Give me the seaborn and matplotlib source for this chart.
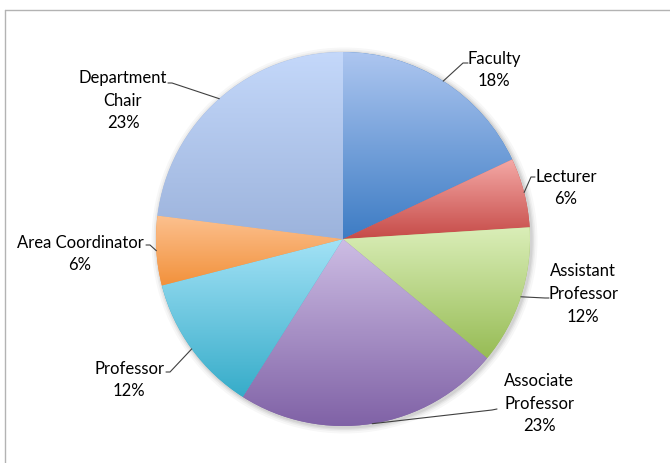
import numpy as np
import matplotlib
matplotlib.use('Agg')
import matplotlib.pyplot as plt
from matplotlib.colors import to_rgb
from matplotlib.lines import Line2D
from matplotlib.patches import Circle
import seaborn as sns

# ── Data ──
roles = ['Faculty', 'Lecturer', 'Assistant\nProfessor', 'Associate\nProfessor',
         'Professor', 'Area Coordinator', 'Department\nChair']
shares = [18, 6, 12, 23, 12, 6, 23]

# Excel-like gradient per slice: light at top, darker at bottom
top_colors = ['#adc6f0', '#f4a9a6', '#daeeb8', '#cdbde4', '#a3e2f6', '#fcc08e', '#c4d8fa']
bottom_colors = ['#3d7cc4', '#c64b48', '#97bc55', '#8062a6', '#36acc9', '#f2913b', '#9cb3dc']

# ── Layout (pixel coords, origin top-left) ──
W, H = 670, 464
CX, CY, R = 343, 240, 187
label_pos = [(494, 70), (566, 188), (583, 294), (539, 404), (129, 380), (80, 254), (123, 101)]
elbows = [(463, 64), (531, 178), (545, 299), (492, 411), (170, 373), (150, 246), (172, 84)]
tick_ends = [(468, 64), (535, 178), (549, 299), (497, 410), (166, 373), (146, 246), (168, 84)]

sns.set_style('white')
plt.rcParams['font.family'] = ['Lato', 'DejaVu Sans']

fig = plt.figure(figsize=(W / 100, H / 100), dpi=100)
ax = fig.add_axes([0, 0, 1, 1])

# soft shadow behind the pie
for k, a in zip([6, 4, 2.5, 1.2], [0.03, 0.04, 0.05, 0.06]):
    ax.add_patch(Circle((CX + 1.5, H - CY - 1.5), R + k, color='black', alpha=a, lw=0, zorder=0))

wedges, _ = ax.pie(shares, colors=bottom_colors, startangle=90, counterclock=False,
                   center=(CX, H - CY), radius=R, wedgeprops=dict(linewidth=0))

for w, c_top, c_bot in zip(wedges, top_colors, bottom_colors):
    ext = w.get_patch_transform().transform_path(w.get_path()).get_extents()
    t = np.linspace(0, 1, 256)[:, None, None]
    img = (1 - t) * np.array(to_rgb(c_top)) + t * np.array(to_rgb(c_bot))
    im = ax.imshow(img, extent=[ext.x0, ext.x1, ext.y0, ext.y1], origin='upper',
                   aspect='auto', interpolation='bilinear', zorder=w.get_zorder() + 0.1)
    im.set_clip_path(w)

# ── Labels with leader lines ──
for w, role, share, (lx, ly), (ex, ey), (tx, ty) in zip(wedges, roles, shares, label_pos, elbows, tick_ends):
    mid = np.deg2rad((w.theta1 + w.theta2) / 2)
    px = CX + R * np.cos(mid)
    py = (H - CY) + R * np.sin(mid)
    ax.plot([px, ex, tx], [py, H - ey, H - ty], color='#404040', lw=0.8, zorder=5)
    ax.text(lx, H - ly, f'{role}\n{share}%', ha='center', va='center',
            fontsize=12, linespacing=1.5, color='black', zorder=6)

ax.set_xlim(0, W)
ax.set_ylim(0, H)
ax.set_aspect('auto')
ax.axis('off')

# chart-area frame (top and left edges visible)
fig.add_artist(Line2D([5 / W, 1], [1 - 11 / H, 1 - 11 / H], color='#b3b3b3', lw=1))
fig.add_artist(Line2D([5 / W, 5 / W], [0, 1 - 11 / H], color='#b3b3b3', lw=1))

fig.savefig('out.png', dpi=100)
